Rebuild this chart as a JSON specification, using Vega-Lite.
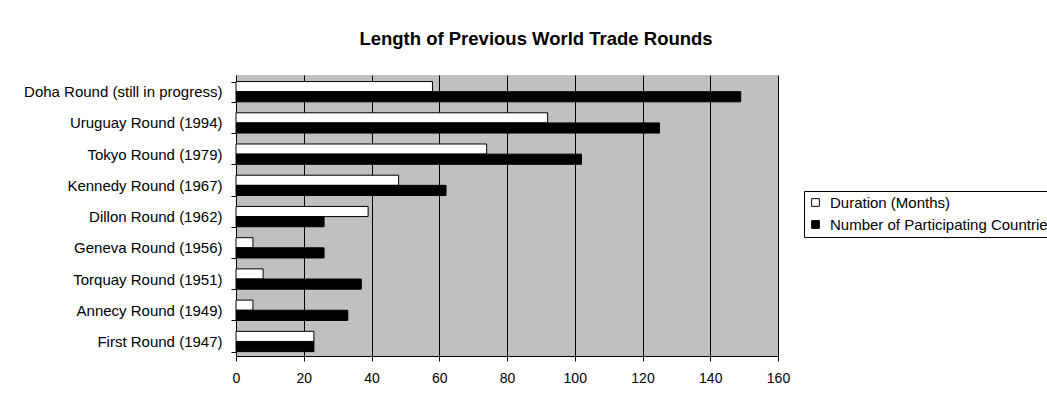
{
  "$schema": "https://vega.github.io/schema/vega-lite/v6.json",
  "autosize": "none",
  "width": 542,
  "height": 281,
  "padding": {"left": 236, "top": 75, "right": 269, "bottom": 41},
  "background": "white",
  "title": {
    "text": "Length of Previous World Trade Rounds",
    "font": "Liberation Sans",
    "fontSize": 18.5,
    "fontWeight": "bold",
    "color": "black",
    "anchor": "middle",
    "dx": 29,
    "offset": 20
  },
  "data": {
    "values": [
      {"round": "Doha Round (still in progress)", "series": "Duration (Months)", "value": 58},
      {"round": "Doha Round (still in progress)", "series": "Number of Participating Countries", "value": 149},
      {"round": "Uruguay Round (1994)", "series": "Duration (Months)", "value": 92},
      {"round": "Uruguay Round (1994)", "series": "Number of Participating Countries", "value": 125},
      {"round": "Tokyo Round (1979)", "series": "Duration (Months)", "value": 74},
      {"round": "Tokyo Round (1979)", "series": "Number of Participating Countries", "value": 102},
      {"round": "Kennedy Round (1967)", "series": "Duration (Months)", "value": 48},
      {"round": "Kennedy Round (1967)", "series": "Number of Participating Countries", "value": 62},
      {"round": "Dillon Round (1962)", "series": "Duration (Months)", "value": 39},
      {"round": "Dillon Round (1962)", "series": "Number of Participating Countries", "value": 26},
      {"round": "Geneva Round (1956)", "series": "Duration (Months)", "value": 5},
      {"round": "Geneva Round (1956)", "series": "Number of Participating Countries", "value": 26},
      {"round": "Torquay Round (1951)", "series": "Duration (Months)", "value": 8},
      {"round": "Torquay Round (1951)", "series": "Number of Participating Countries", "value": 37},
      {"round": "Annecy Round (1949)", "series": "Duration (Months)", "value": 5},
      {"round": "Annecy Round (1949)", "series": "Number of Participating Countries", "value": 33},
      {"round": "First Round (1947)", "series": "Duration (Months)", "value": 23},
      {"round": "First Round (1947)", "series": "Number of Participating Countries", "value": 23}
    ]
  },
  "mark": {"type": "bar", "stroke": "black", "strokeWidth": 1},
  "encoding": {
    "y": {
      "field": "round",
      "type": "nominal",
      "sort": ["Doha Round (still in progress)", "Uruguay Round (1994)", "Tokyo Round (1979)", "Kennedy Round (1967)", "Dillon Round (1962)", "Geneva Round (1956)", "Torquay Round (1951)", "Annecy Round (1949)", "First Round (1947)"],
      "scale": {"paddingInner": 0.35, "paddingOuter": 0.175, "align": 0.6},
      "axis": {
        "title": null,
        "tickBand": "extent",
        "tickSize": 5,
        "tickColor": "black",
        "domainColor": "black",
        "labelPadding": 9,
        "labelFont": "Liberation Sans",
        "labelFontSize": 15,
        "labelColor": "black",
        "labelLimit": 300,
        "grid": false
      }
    },
    "yOffset": {
      "field": "series",
      "type": "nominal",
      "sort": ["Duration (Months)", "Number of Participating Countries"],
      "scale": {"paddingInner": 0, "paddingOuter": 0}
    },
    "x": {
      "field": "value",
      "type": "quantitative",
      "scale": {"domain": [0, 160], "nice": false},
      "axis": {
        "title": null,
        "values": [0, 20, 40, 60, 80, 100, 120, 140, 160],
        "tickSize": 5,
        "tickColor": "black",
        "domainColor": "black",
        "grid": true,
        "gridColor": "black",
        "gridOpacity": 1,
        "gridWidth": 1,
        "labelPadding": 10,
        "labelFont": "Liberation Sans",
        "labelFontSize": 14,
        "labelColor": "black",
        "labelFlush": false
      }
    },
    "color": {
      "field": "series",
      "type": "nominal",
      "scale": {"domain": ["Duration (Months)", "Number of Participating Countries"], "range": ["white", "black"]},
      "legend": {
        "title": null,
        "orient": "none",
        "legendX": 568,
        "legendY": 116,
        "strokeColor": "black",
        "padding": 4,
        "fillColor": "white",
        "symbolType": "square",
        "symbolSize": 60,
        "symbolStrokeColor": "black",
        "symbolStrokeWidth": 1,
        "symbolOpacity": 1,
        "labelFont": "Liberation Sans",
        "labelFontSize": 15,
        "labelColor": "black",
        "labelLimit": 400,
        "labelOffset": 7,
        "rowPadding": 6
      }
    }
  },
  "config": {
    "view": {"fill": "#c0c0c0", "stroke": null}
  }
}
